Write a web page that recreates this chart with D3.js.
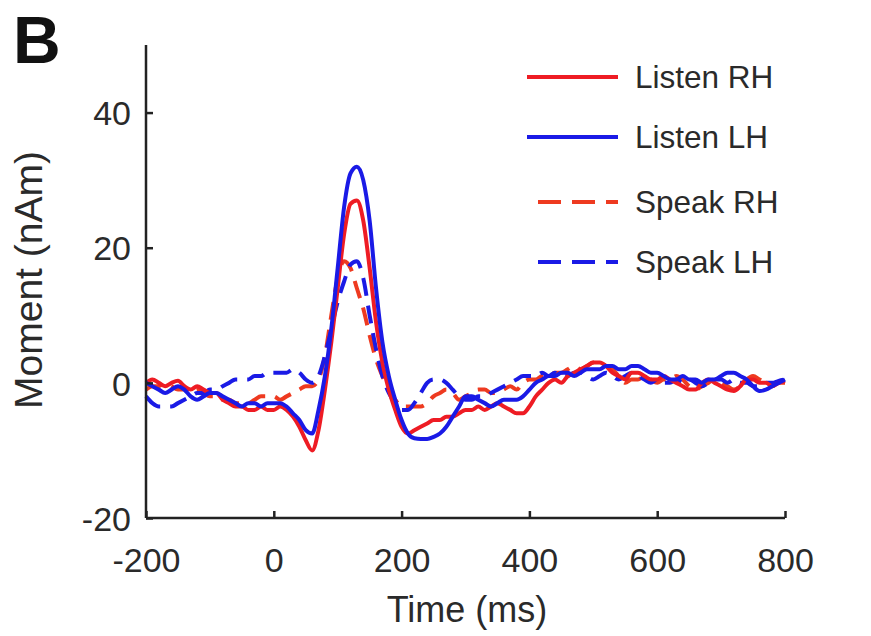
<!DOCTYPE html>
<html>
<head>
<meta charset="utf-8">
<script src="https://cdn.jsdelivr.net/npm/d3@7"></script>
<style>
  html, body { margin: 0; padding: 0; background: #fff; }
  svg { display: block; font-family: "Liberation Sans", Arial, Helvetica, sans-serif; }
</style>
</head>
<body>
<svg id="chart" width="871" height="636"></svg>
<script>
// ---- data ----
const time = [-200,-190,-180,-170,-160,-150,-140,-130,-120,-110,-100,-90,-80,-70,-60,-50,-40,-30,-20,-10,
  0,10,20,30,40,50,60,70,80,90,100,110,120,130,140,150,160,170,180,190,
  200,210,220,230,240,250,260,270,280,290,300,310,320,330,340,350,360,370,380,390,
  400,410,420,430,440,450,460,470,480,490,500,510,520,530,540,550,560,570,580,590,
  600,610,620,630,640,650,660,670,680,690,700,710,720,730,740,750,760,770,780,790,800];

const listenRH = [0,0.5,0,-0.5,0,0.3,-0.5,-1,-0.5,-1,-1.5,-1.5,-2.5,-3,-3.5,-3.5,-4,-4,-3.5,-4,
  -4,-3.5,-4,-5,-6.5,-8.5,-10,-7,-1,6,14,22,26.5,27,24,17,9,3,-1,-4,
  -6.5,-7.5,-7,-6.5,-6,-5.5,-5.5,-5,-5,-4.5,-4,-4,-3.5,-4,-3.5,-3,-3.5,-4,-4.5,-4.5,
  -3.5,-2,-1,0,0.5,0,1,1.5,2,2.5,3,3,2.5,1.5,1,0.5,1.5,1.5,1,0.5,
  0.5,1,0.5,0,-0.5,-1,-1,0,0.5,0,-0.5,-1,-1.2,-0.5,0.5,0.5,0,0,-0.5,0,0.3];

const listenLH = [0,-0.5,-1,-1.5,-1,-0.5,-1,-2,-2.5,-2,-1.5,-1.5,-2,-2.5,-3,-3.5,-3,-3,-3.5,-3,
  -3,-3,-3.5,-4.5,-5.5,-7,-7.5,-4,1,8,17,26,31,32,30,24,14,6,1,-2.5,
  -5.5,-7.5,-8.2,-8.3,-8.3,-8,-7.5,-6.5,-5,-3.5,-2,-2,-2.5,-3,-3.5,-3,-2.5,-2.5,-2.5,-2,
  -1,0,0.5,1,1,1.5,1.5,1,1.5,2,2,2,2.5,2.5,2,2,2.5,2.5,2,1.5,
  1.5,1,0.5,0.5,1,0.5,0.5,0,0.5,0.5,1,1.5,1.5,1,0.5,-0.5,-1.2,-1,-0.5,0,0.5];

const speakRH = [-1,-0.5,-0.5,0,-0.5,-1,-1,-1.5,-1,-1.5,-2,-2,-2.5,-2.5,-3,-3,-3,-2.5,-2,-2,
  -2,-2.5,-2,-1.5,-1,-0.5,-0.5,0.5,4,10,15.5,18,17,14,11,7,3.5,1,-1,-2.5,
  -3.5,-3.5,-3.5,-3.5,-3,-2,-1.5,-1,-1.5,-2.5,-2,-1.5,-1,-1,-1.5,-1.5,-1,-0.5,-1,0,
  0.5,0.5,1,1,1.5,1.5,2,2.5,2,2.5,3,3,2.5,2,1,0,0.5,0.5,1,0.5,
  0,0.5,0.5,1,0.5,-0.5,-1,-0.5,0,0.5,0,-0.5,-1,-0.5,0.5,1,0.5,0,-0.5,0,0];

const speakLH = [-2,-3,-3.5,-3.5,-3.5,-3,-2.5,-2,-1.5,-1.5,-1,-1,-0.5,0,0.5,0.5,0.5,1,1,1.5,
  1.5,1.5,1.5,2,1.5,0.5,0,1,4,8,12,15,17.5,18,15.5,10,5,1,-1.5,-3,
  -4,-4,-3,-1.5,0,0.5,0.5,0,-1,-2,-2.5,-2.5,-2,-2,-1.5,-1,-0.5,0,0.5,1,
  1,1,1.5,1,1.5,1,1,1.5,1.5,1,0.5,1,1.5,1,0.5,1,1.5,1,0.5,0,
  0.5,0,0,0.5,0,0.5,0,-0.5,0,0.5,0.5,0,0.5,0,0,-0.5,-0.5,0,0,0.3,0.5];

const seriesNames = ["Listen RH", "Listen LH", "Speak RH", "Speak LH"];
const seriesColors = ["#ee1c24", "#1a1ae6", "#ee3a20", "#1a1ae6"];
const seriesDashed = [false, false, true, true];
const xTicks = [-200, 0, 200, 400, 600, 800];
const yTicks = [-20, 0, 20, 40];
const xLabel = "Time (ms)";
const yLabel = "Moment (nAm)";
const panelLabel = "B";

// ---- chart ----
const svg = d3.select("#chart");
svg.append("rect").attr("width", 871).attr("height", 636).attr("fill", "#fff");

const x = d3.scaleLinear().domain([-200, 800]).range([146, 785]);
const y = d3.scaleLinear().domain([-20, 50]).range([518, 45]);

const allSeries = [listenRH, listenLH, speakRH, speakLH];
const line = d3.line()
  .x((d, i) => x(time[i]))
  .y(d => y(d))
  .curve(d3.curveMonotoneX);

// draw order: dashed first, then solids on top
const order = [2, 3, 0, 1];
order.forEach(k => {
  svg.append("path")
    .datum(allSeries[k])
    .attr("d", line)
    .attr("fill", "none")
    .attr("stroke", seriesColors[k])
    .attr("stroke-width", 4)
    .attr("stroke-linejoin", "round")
    .attr("stroke-dasharray", seriesDashed[k] ? "18,10" : null);
});

// axes
const axisColor = "#222";
const fmt = d => String(d);
const xAxis = svg.append("g")
  .attr("transform", `translate(0,${y(-20)})`)
  .call(d3.axisBottom(x).tickValues(xTicks).tickSize(-7).tickPadding(0).tickFormat(fmt));
const yAxis = svg.append("g")
  .attr("transform", `translate(${x(-200)},0)`)
  .call(d3.axisLeft(y).tickValues(yTicks).tickSize(-7).tickPadding(15).tickFormat(fmt));

[xAxis, yAxis].forEach(g => {
  g.select(".domain").attr("stroke", axisColor).attr("stroke-width", 2.5);
  g.selectAll(".tick line").attr("stroke", axisColor).attr("stroke-width", 2.5);
  g.selectAll(".tick text").attr("fill", "#2a2a2a").attr("font-size", 34)
    .attr("font-family", "'Liberation Sans', Arial, sans-serif");
});
xAxis.select(".domain").attr("d", `M${x(-200)},0H${x(800)}`);
yAxis.select(".domain").attr("d", `M0,${y(-20)}V${y(50)}`);
xAxis.selectAll(".tick text").attr("y", 54).attr("dy", null);
yAxis.selectAll(".tick text").attr("dy", "0.36em");

// axis labels
svg.append("text")
  .attr("x", 467).attr("y", 622)
  .attr("text-anchor", "middle")
  .attr("font-size", 36).attr("fill", "#2a2a2a")
  .text(xLabel);

svg.append("text")
  .attr("transform", "translate(42,280) rotate(-90)")
  .attr("text-anchor", "middle")
  .attr("font-size", 39).attr("fill", "#2a2a2a")
  .text(yLabel);

svg.append("text")
  .attr("x", 13).attr("y", 63)
  .attr("font-size", 66).attr("font-weight", "bold").attr("fill", "#111")
  .text(panelLabel);

// legend
const legY = [77, 137, 202, 262];
seriesNames.forEach((name, k) => {
  svg.append("line")
    .attr("x1", seriesDashed[k] ? 538 : 527).attr("x2", 618)
    .attr("y1", legY[k]).attr("y2", legY[k])
    .attr("stroke", seriesColors[k]).attr("stroke-width", 4)
    .attr("stroke-dasharray", seriesDashed[k] ? "23,11" : null);
  svg.append("text")
    .attr("x", 635).attr("y", legY[k]).attr("dy", "0.36em")
    .attr("font-size", 31.5).attr("fill", "#2a2a2a")
    .text(name);
});
</script>
</body>
</html>
